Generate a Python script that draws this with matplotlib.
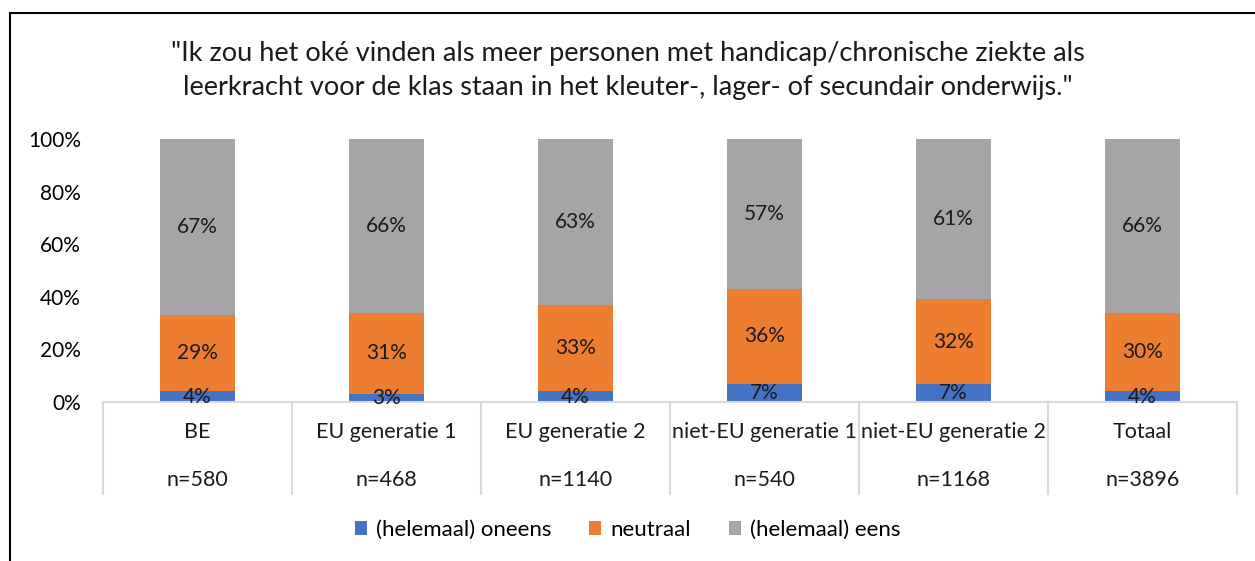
import matplotlib.pyplot as plt
from matplotlib.patches import Rectangle
from matplotlib.ticker import PercentFormatter

groups = ['BE', 'EU generatie 1', 'EU generatie 2', 'niet-EU generatie 1', 'niet-EU generatie 2', 'Totaal']
sizes = ['n=580', 'n=468', 'n=1140', 'n=540', 'n=1168', 'n=3896']
oneens = [4, 3, 4, 7, 7, 4]
neutraal = [29, 31, 33, 36, 32, 30]
eens = [67, 66, 63, 57, 61, 66]
series = ['(helemaal) oneens', 'neutraal', '(helemaal) eens']
colors = ['#4472C4', '#ED7D31', '#A5A5A5']

plt.rcParams['font.family'] = ['Lato', 'DejaVu Sans']

fig = plt.figure(figsize=(12.55, 5.61), dpi=100)
ax = fig.add_axes([103 / 1255, 1 - 402 / 561, (1237 - 103) / 1255, 263 / 561])

x = list(range(len(groups)))
bottom = [0] * len(groups)
for vals, name, col in zip([oneens, neutraal, eens], series, colors):
    ax.bar(x, vals, width=0.4, bottom=bottom, color=col, label=name, zorder=2)
    for i, v in enumerate(vals):
        ax.text(i, bottom[i] + v / 2, f'{v}%', ha='center', va='center', fontsize=15, color='#1a1a1a', zorder=3)
    bottom = [b + v for b, v in zip(bottom, vals)]

ax.set_xlim(-0.5, len(groups) - 0.5)
ax.set_ylim(0, 100)
ax.set_yticks([0, 20, 40, 60, 80, 100])
ax.yaxis.set_major_formatter(PercentFormatter(100, decimals=0))
ax.tick_params(axis='y', length=0, pad=16, labelsize=15)
ax.set_xticks([])
for s in ['top', 'right', 'left']:
    ax.spines[s].set_visible(False)
ax.spines['bottom'].set_color('#D9D9D9')
ax.spines['bottom'].set_linewidth(1.5)

# multi-level category axis
trans = ax.get_xaxis_transform()
for i in range(len(groups) + 1):
    ax.plot([i - 0.5, i - 0.5], [0, -0.35], transform=trans, color='#D9D9D9', lw=1.5, clip_on=False)
for i, (g, n) in enumerate(zip(groups, sizes)):
    ax.text(i, -0.115, g, transform=trans, ha='center', va='center', fontsize=15.5, color='#1a1a1a')
    ax.text(i, -0.295, n, transform=trans, ha='center', va='center', fontsize=15.5, color='#1a1a1a')

fig.text(0.5, 1 - 71 / 561,
         '"Ik zou het oké vinden als meer personen met handicap/chronische ziekte als\n'
         'leerkracht voor de klas staan in het kleuter-, lager- of secundair onderwijs."',
         ha='center', va='center', fontsize=19.5, color='#1a1a1a', linespacing=1.45)

fig.legend(loc='center', bbox_to_anchor=(0.5, 1 - 530 / 561), ncol=3, frameon=False,
           fontsize=16, handlelength=0.55, handleheight=0.55, handletextpad=0.4, columnspacing=1.7)

fig.patches.append(Rectangle((10 / 1255, -0.1), 1.2, 1.1 - 13 / 561, transform=fig.transFigure,
                             fill=False, edgecolor='black', lw=1.5))

fig.savefig('out.png', dpi=100)
